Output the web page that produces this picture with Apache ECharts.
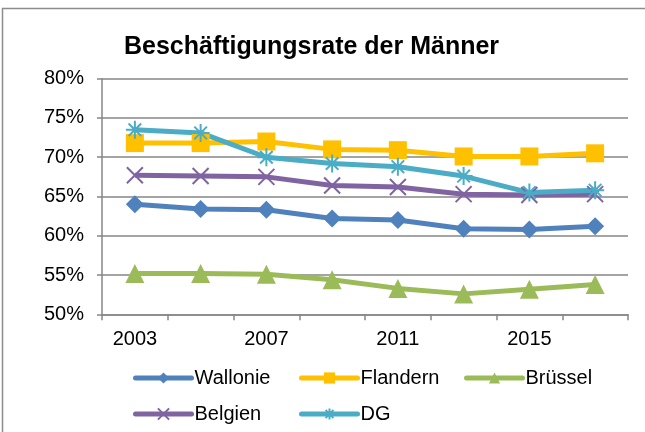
<!DOCTYPE html>
<html>
<head>
<meta charset="utf-8">
<script src="https://cdn.jsdelivr.net/npm/echarts@6/dist/echarts.min.js"></script>
<style>
	html, body { margin: 0; padding: 0; background: #ffffff; }
	#chart { width: 645px; height: 432px; }
</style>
</head>
<body>
<div id="chart"></div>
<script>
// Jahre (Kategorien) und Werte in %
var years = ['2003', '2005', '2007', '2009', '2011', '2013', '2015', '2017'];
var wallonie = [64.0, 63.4, 63.3, 62.2, 62.0, 60.9, 60.8, 61.2];
var flandern = [71.8, 71.8, 72.0, 71.0, 70.9, 70.1, 70.1, 70.5];
var bruessel = [55.2, 55.2, 55.1, 54.4, 53.3, 52.6, 53.2, 53.8];
var belgien = [67.7, 67.6, 67.5, 66.4, 66.2, 65.3, 65.2, 65.3];
var dg = [73.5, 73.1, 70.0, 69.2, 68.8, 67.6, 65.5, 65.8];
var yTicks = [50, 55, 60, 65, 70, 75, 80];

var fontName = 'Liberation Sans, Arial, sans-serif';

function lineSeries(name, data, color, symbol, size, stroke){
	var s = {
		name: name,
		type: 'line',
		data: data,
		symbol: symbol,
		symbolSize: size,
		showAllSymbol: true,
		lineStyle: { color: color, width: 5 },
		itemStyle: { color: color }
	};
	if (stroke) {
		s.itemStyle.borderColor = color;
		s.itemStyle.borderWidth = 2;
	}
	return s;
}

function legendAt(name, left, top){
	return {
		data: [name],
		left: left,
		top: top,
		itemWidth: 56,
		itemHeight: 14,
		itemGap: 0,
		padding: 0,
		lineStyle: { width: 5, cap: 'round' },
		textStyle: { fontFamily: fontName, fontSize: 20, color: '#000000', padding: [0, 0, 0, -2] }
	};
}

var chart = echarts.init(document.getElementById('chart'));

var option = {
	animation: false,
	title: {
		text: 'Beschäftigungsrate der Männer',
		left: 124,
		top: 35,
		padding: 0,
		textStyle: { fontFamily: fontName, fontSize: 25, fontWeight: 'bold', color: '#000000' }
	},
	graphic: [{
		type: 'rect',
		shape: { x: 2.5, y: 8.5, width: 700, height: 500 },
		style: { fill: 'none', stroke: '#8c8c8c', lineWidth: 1.5 }
	}],
	legend: [
		legendAt('Wallonie', 133, 368),
		legendAt('Flandern', 299, 368),
		legendAt('Brüssel', 464, 368),
		legendAt('Belgien', 133, 404),
		legendAt('DG', 299, 404)
	],
	grid: { left: 102, right: 17, top: 78.7, bottom: 117.7 },
	xAxis: {
		type: 'category',
		data: years,
		boundaryGap: true,
		axisLine: { lineStyle: { color: '#868686', width: 1.5 } },
		axisTick: { show: true, length: 6, interval: 0, lineStyle: { color: '#868686', width: 1.5 } },
		axisLabel: { interval: 1, margin: 15, fontFamily: fontName, fontSize: 20, color: '#000000' },
		splitLine: { show: false }
	},
	yAxis: {
		type: 'value',
		min: yTicks[0],
		max: yTicks[yTicks.length - 1],
		interval: 5,
		axisLine: { show: true, lineStyle: { color: '#868686', width: 1.5 } },
		axisTick: { show: true, length: 5, lineStyle: { color: '#868686', width: 1.5 } },
		axisLabel: { margin: 18, formatter: '{value}%', fontFamily: fontName, fontSize: 20, color: '#000000' },
		splitLine: { lineStyle: { color: '#868686', width: 1.5 } }
	},
	series: [
		lineSeries('Wallonie', wallonie, '#4f81bd', 'diamond', 18),
		lineSeries('Flandern', flandern, '#ffc000', 'rect', 18),
		lineSeries('Brüssel', bruessel, '#9bbb59', 'triangle', 19),
		lineSeries('Belgien', belgien, '#8064a2', 'path://M0,0L10,10M10,0L0,10', 16, true),
		lineSeries('DG', dg, '#4bacc6', 'path://M5,0L5,10M0,5L10,5M1.5,1.5L8.5,8.5M8.5,1.5L1.5,8.5', 18, true)
	]
};

chart.setOption(option);
</script>
</body>
</html>
